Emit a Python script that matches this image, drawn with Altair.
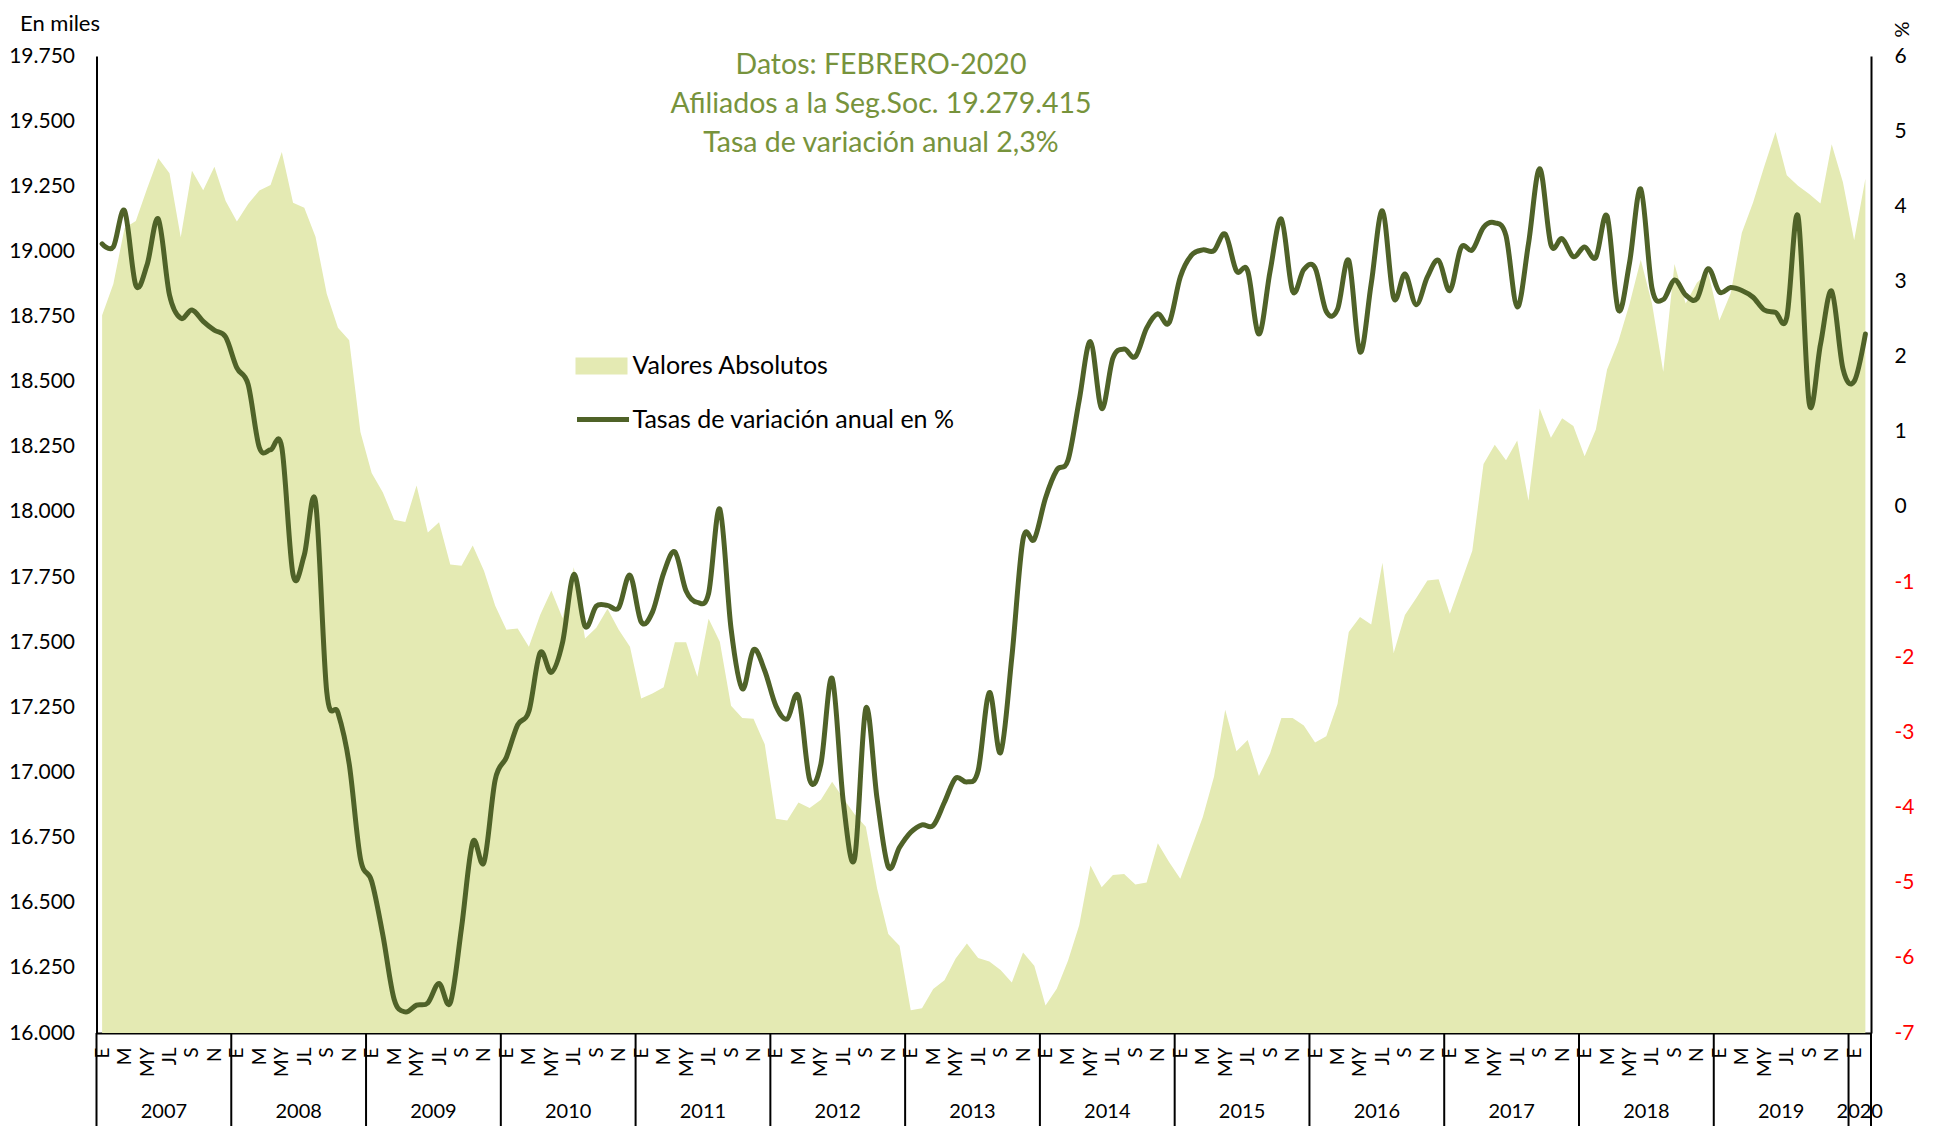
import altair as alt
import pandas as pd

# ---------------- data ----------------
# Afiliados (miles), monthly Jan-2007 .. Feb-2020
AFILIADOS = [
    18755, 18875, 19090, 19117, 19240, 19358, 19300, 19054, 19310, 19235, 19325, 19193,  # 2007
    19115, 19182, 19234, 19255, 19382, 19187, 19168, 19056, 18837, 18707, 18659, 18307,  # 2008
    18149, 18075, 17970, 17961, 18101, 17921, 17960, 17798, 17793, 17871, 17774, 17640,  # 2009
    17548, 17553, 17483, 17604, 17698, 17592, 17788, 17514, 17555, 17628, 17548, 17483,  # 2010
    17284, 17303, 17327, 17500, 17500, 17367, 17590, 17502, 17256, 17209, 17206, 17108,  # 2011
    16822, 16816, 16885, 16864, 16895, 16964, 16900, 16840, 16792, 16556, 16380, 16335,  # 2012
    16087, 16095, 16169, 16202, 16286, 16344, 16288, 16274, 16242, 16194, 16309, 16258,  # 2013
    16106, 16170, 16277, 16414, 16643, 16559, 16606, 16610, 16570, 16578, 16728, 16656,  # 2014
    16592, 16711, 16828, 16984, 17241, 17081, 17125, 16986, 17074, 17209, 17209, 17180,  # 2015
    17115, 17139, 17263, 17539, 17597, 17568, 17805, 17459, 17604, 17669, 17737, 17742,  # 2016
    17609, 17730, 17851, 18184, 18258, 18198, 18274, 18043, 18397, 18285, 18360, 18330,  # 2017
    18214, 18316, 18547, 18654, 18798, 18968, 18800, 18538, 18952, 18800, 18880, 18920,  # 2018
    18735, 18838, 19072, 19188, 19327, 19458, 19292, 19252, 19220, 19184, 19411, 19265,  # 2019
    19043, 19279,                                                                        # 2020
]
# Tasa de variacion anual (%)
TASA = [
    3.50, 3.46, 3.94, 2.95, 3.22, 3.83, 2.82, 2.51, 2.62, 2.47, 2.35, 2.26,
    1.85, 1.63, 0.79, 0.76, 0.79, -0.90, -0.64, 0.07, -2.46, -2.74, -3.42, -4.68,
    -4.98, -5.70, -6.55, -6.72, -6.63, -6.60, -6.34, -6.60, -5.60, -4.46, -4.73, -3.63,
    -3.33, -2.90, -2.72, -1.94, -2.20, -1.80, -0.90, -1.59, -1.32, -1.31, -1.34, -0.91,
    -1.53, -1.40, -0.88, -0.60, -1.12, -1.27, -1.15, -0.03, -1.62, -2.42, -1.90, -2.18,
    -2.65, -2.82, -2.52, -3.63, -3.42, -2.28, -3.93, -4.68, -2.68, -3.88, -4.79, -4.53,
    -4.33, -4.23, -4.24, -3.93, -3.61, -3.66, -3.51, -2.47, -3.27, -2.00, -0.43, -0.43,
    0.12, 0.49, 0.62, 1.42, 2.20, 1.31, 1.98, 2.10, 2.00, 2.38, 2.57, 2.45,
    3.06, 3.35, 3.42, 3.41, 3.63, 3.14, 3.14, 2.30, 3.14, 3.83, 2.87, 3.16,
    3.18, 2.60, 2.63, 3.28, 2.06, 2.97, 3.94, 2.78, 3.10, 2.69, 3.06, 3.28,
    2.88, 3.45, 3.42, 3.72, 3.78, 3.61, 2.66, 3.50, 4.50, 3.49, 3.57, 3.33,
    3.46, 3.32, 3.87, 2.62, 3.25, 4.23, 2.91, 2.76, 3.02, 2.82, 2.77, 3.17,
    2.86, 2.92, 2.88, 2.79, 2.62, 2.59, 2.52, 3.87, 1.38, 2.16, 2.87, 1.84,
    1.67, 2.30,
]
MES_ABBR = ["E", "M", "MY", "JL", "S", "N"]          # labels of every second month
YEARS = [str(y) for y in range(2007, 2021)]
LEFT_TICKS = list(range(16000, 19751, 250))
RIGHT_TICKS = list(range(-7, 7))
ANNOT = ["Datos: FEBRERO-2020",
         "Afiliados a la Seg.Soc. 19.279.415",
         "Tasa de variación anual 2,3%"]
SERIE_A = "Valores Absolutos"
SERIE_L = "Tasas de variación anual en %"

N = len(AFILIADOS)
df = pd.DataFrame({"i": list(range(N)), "afiliados": AFILIADOS, "tasa": TASA,
                   "sa": SERIE_A, "sl": SERIE_L})
bounds = [12 * k - 0.5 for k in range(len(YEARS))] + [N - 0.5]
sep_df = pd.DataFrame({"i": bounds})
year_df = pd.DataFrame({
    "i": [(12 * k + min(12 * k + 11, N - 1)) / 2 for k in range(len(YEARS))],
    "anio": YEARS,
})

# ---------------- styling ----------------
W, H = 1774.5, 977
FONT = "Lato"
AREA_C = "#E4EAB3"
LINE_C = "#4F6228"
ANNOT_C = "#77933C"

xscale = alt.Scale(domain=[-0.5, N - 0.5], nice=False, zero=False)
abbr_js = "[" + ",".join("'%s'" % m for m in MES_ABBR) + "]"
xaxis = alt.Axis(
    values=list(range(0, N, 2)),
    labelExpr=abbr_js + "[(datum.value % 12) / 2]",
    labelAngle=-90, labelFont=FONT, labelFontSize=19, labelColor="black",
    labelPadding=14, labelFlush=False, labelOverlap=False,
    ticks=False, grid=False, domainColor="black", domainWidth=2, title=None,
)
X = alt.X("i:Q", scale=xscale, axis=xaxis)

left_axis = alt.Axis(
    values=LEFT_TICKS,
    labelExpr="replace(format(datum.value, ',d'), ',', '.')",
    labelFont=FONT, labelFontSize=21, labelColor="black", labelPadding=22,
    ticks=False, grid=False, domainColor="black", domainWidth=2,
    title="En miles", titleAngle=0, titleFont=FONT, titleFontSize=22,
    titleFontWeight="normal", titleColor="black", titleAlign="left",
    titleBaseline="middle", titleX=-77, titleY=-33,
)
right_axis = alt.Axis(
    orient="right", values=RIGHT_TICKS, labelExpr="'' + datum.value",
    labelFont=FONT, labelFontSize=21, labelPadding=23,
    labelColor={"condition": {"test": "datum.value < 0", "value": "#FF0000"}, "value": "#000000"},
    ticks=False, grid=False, domainColor="black", domainWidth=2,
    title="%", titleAngle=90, titleFont=FONT, titleFontSize=20,
    titleFontWeight="normal", titleColor="black", titleAlign="center",
    titleBaseline="middle", titleX=29, titleY=-27,
)

area = alt.Chart(df).mark_area(opacity=1, interpolate="linear").encode(
    x=X,
    y=alt.Y("afiliados:Q", scale=alt.Scale(domain=[16000, 19750], nice=False, zero=False),
            axis=left_axis),
    y2=alt.datum(16000),
    fill=alt.Fill("sa:N", scale=alt.Scale(domain=[SERIE_A], range=[AREA_C]),
                  legend=alt.Legend(
                      orient="none", legendX=479, legendY=284, title=None,
                      symbolType="M-1,-0.33H1V0.33H-1Z", symbolSize=2704,
                      symbolStrokeWidth=0, symbolOpacity=1, padding=0,
                      labelFont=FONT, labelFontSize=25, labelColor="black",
                      labelOffset=5, labelLimit=600)),
)

line = alt.Chart(df).mark_line(strokeWidth=5, interpolate="cardinal",
                               strokeCap="round", strokeJoin="round").encode(
    x=X,
    y=alt.Y("tasa:Q", scale=alt.Scale(domain=[-7, 6], nice=False, zero=False),
            axis=right_axis),
    stroke=alt.Stroke("sl:N", scale=alt.Scale(domain=[SERIE_L], range=[LINE_C]),
                      legend=alt.Legend(
                          orient="none", legendX=478, legendY=335, title=None,
                          symbolType="stroke", symbolSize=2704,
                          symbolStrokeWidth=5, padding=0,
                          labelFont=FONT, labelFontSize=25, labelColor="black",
                          labelOffset=1, labelLimit=600)),
)

seps = alt.Chart(sep_df).mark_rule(color="black", strokeWidth=2).encode(
    x=X, y=alt.value(H), y2=alt.value(H + 95),
)
years = alt.Chart(year_df).mark_text(font=FONT, fontSize=20, color="black",
                                     baseline="middle", align="center").encode(
    x=X, y=alt.value(H + 79), text="anio:N",
)
annots = [
    alt.Chart(pd.DataFrame({"t": [s]})).mark_text(
        font=FONT, fontSize=28.5, color=ANNOT_C, align="center", baseline="middle"
    ).encode(text="t:N", x=alt.value(784.5), y=alt.value(8.5 + 39 * k))
    for k, s in enumerate(ANNOT)
]

chart = alt.layer(area, seps, years, line, *annots).resolve_scale(
    y="independent", fill="independent", stroke="independent"
).properties(
    width=W, height=H,
    padding={"left": 88.5, "top": 48, "right": 55, "bottom": 93},
    autosize=alt.AutoSizeParams(type="none"),
    background="white",
).configure_view(strokeWidth=0)

chart.save("out.html", embed_options={"renderer": "svg", "actions": False})
